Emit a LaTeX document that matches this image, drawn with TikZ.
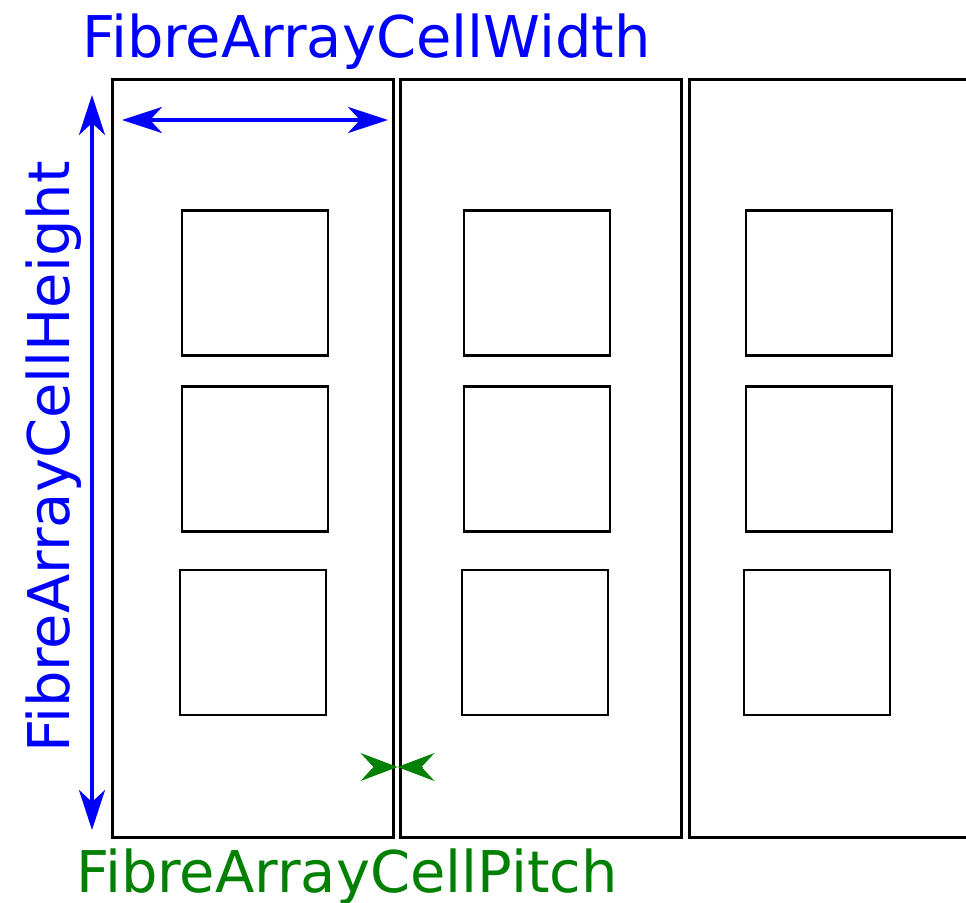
\documentclass[tikz,border=0pt]{standalone}
\usepackage{fontspec}
\setmainfont{DejaVu Sans}
\usetikzlibrary{arrows.meta,positioning}
\definecolor{pitchgreen}{RGB}{0,128,0}
\tikzset{
  cell/.style={draw=black,line width=3pt,minimum width=281pt,minimum height=758pt,inner sep=0pt,outer sep=0pt},
  fibre/.style={draw=black,line width=2.5pt,minimum width=146pt,minimum height=145pt,inner sep=0pt,outer sep=0pt},
  dimline/.style={blue,line width=4pt,{Stealth[length=40pt,width=26pt,inset=12pt]}-{Stealth[length=40pt,width=26pt,inset=12pt]}},
  pitchtip/.style={pitchgreen,line width=1pt,shorten <=14pt,-{Stealth[length=37pt,width=28pt,inset=13pt]}},
  label/.style={font=\fontsize{57.5}{69}\selectfont,inner sep=0pt}
}

\begin{document}
\begin{tikzpicture}[x=1pt,y=-1pt]
\useasboundingbox (0,0) rectangle (966,902);
% cells
\node[cell] (c1) at (252.5,458.5) {};
\node[cell] (c2) at (541,458.5) {};
\node[cell] (c3) at (830,458.5) {};
% fibres
\node[fibre] (f11) at (255,283) {};
\node[fibre] (f12) at (255,459) {};
\node[fibre] (f13) at (253,642.5) {};
\node[fibre] (f21) at (537,283) {};
\node[fibre] (f22) at (537,459) {};
\node[fibre] (f23) at (535,642.5) {};
\node[fibre] (f31) at (819,283) {};
\node[fibre] (f32) at (819,459) {};
\node[fibre] (f33) at (817,642.5) {};
% dimensions
\coordinate (wl) at (122,120);
\coordinate (wr) at (388,120);
\draw[dimline] (wl) -- (wr);
\coordinate (ht) at (92,95);
\coordinate (hb) at (92,830);
\draw[dimline] (ht) -- (hb);
\coordinate (pl) at (361,767);
\coordinate (pm) at (397.5,767);
\coordinate (pr) at (437,767);
\draw[pitchtip] (pl) -- (pm);
\draw[pitchtip] (pr) -- (pm);
% labels
\node[label,blue,anchor=base west] (wlabel) at (82,57) {FibreArrayCellWidth};
\node[label,blue,anchor=base west,rotate=90] (hlabel) at (69,753) {FibreArrayCellHeight};
\node[label,pitchgreen,anchor=base west] (plabel) at (76,892) {FibreArrayCellPitch};
\end{tikzpicture}
\end{document}
